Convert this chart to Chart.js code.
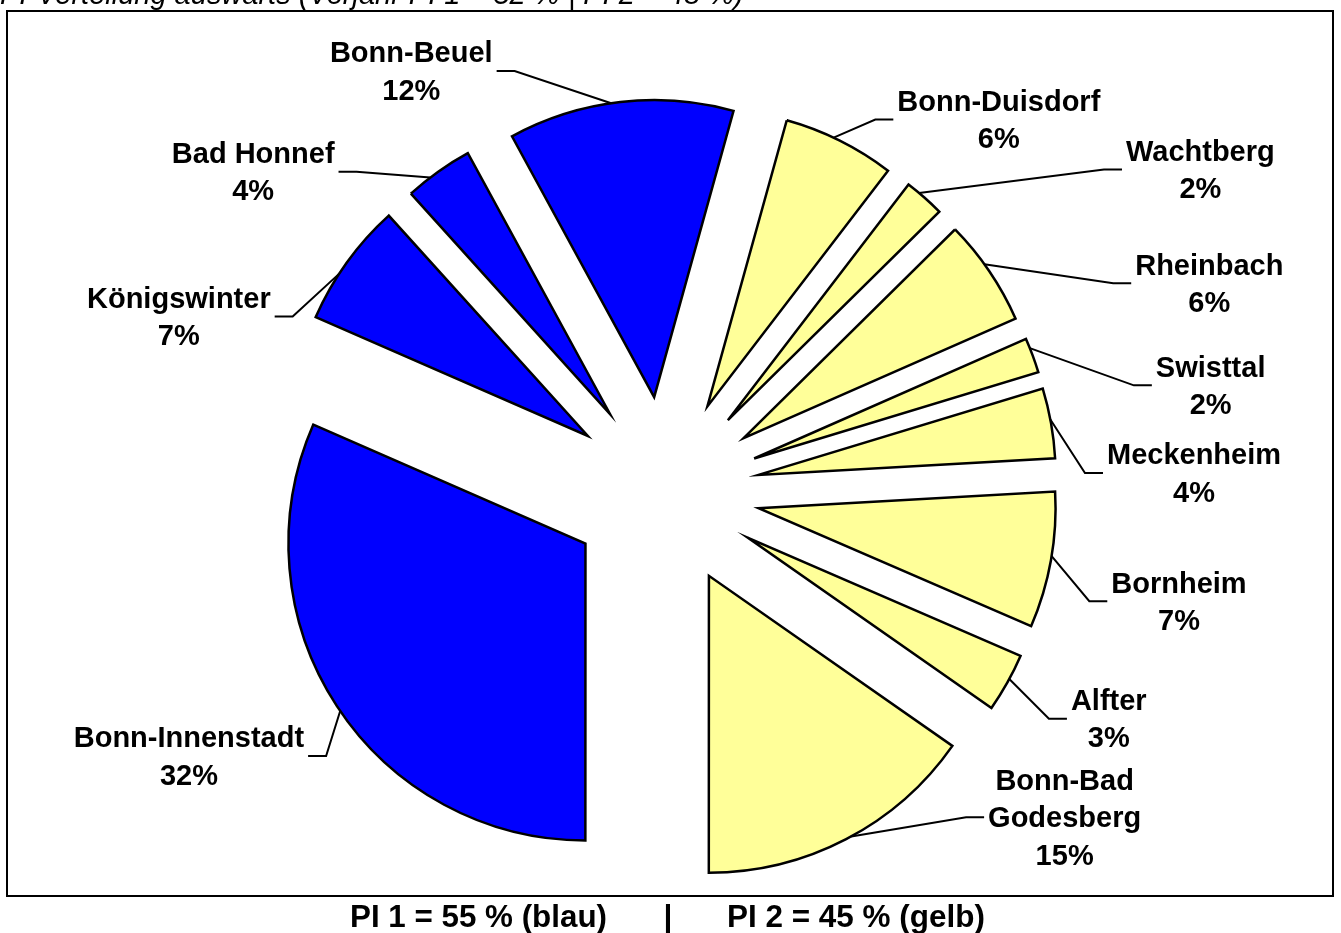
<!DOCTYPE html>
<html><head><meta charset="utf-8">
<script src="https://cdn.jsdelivr.net/npm/chart.js@4.4.1/dist/chart.umd.min.js"></script>
<style>html,body{margin:0;padding:0;background:#fff;overflow:hidden}canvas{display:block}</style>
</head><body>
<canvas id="c" width="1341" height="933"></canvas>
<script>
// ---- data (shares in %) ----
const categories = ['Bonn-Duisdorf','Wachtberg','Rheinbach','Swisttal','Meckenheim','Bornheim','Alfter',['Bonn-Bad','Godesberg'],'Bonn-Innenstadt','Königswinter','Bad Honnef','Bonn-Beuel'];
const shares = [6.1,2.2,5.8,1.9,3.8,7.4,3.2,15.3,31.55,6.75,3.75,12.25];
const groupOf = [2,2,2,2,2,2,2,2,1,1,1,1];   // 1 = PI 1 (blau), 2 = PI 2 (gelb)
const titleText = 'PI-Verteilung auswärts (Vorjahr PI 1 = 52 % | PI 2 = 48 %)';
const footerLeft = 'PI 1 = 55 % (blau)';
const footerSep = '|';
const footerRight = 'PI 2 = 45 % (gelb)';

// ---- style / layout ----
const BLUE = '#0000FF', YELLOW = '#FFFF99';
const EXPLODE = 0.32;           // explosion as fraction of radius
const FONT = 'bold 29px "Liberation Sans", Arial, sans-serif';
const LINE_H = 37.5;
// label block centre relative to slice's outer midpoint; t = leader attach position inside slice
const labelLayout = [
  {dx:159, dy:-21, t:0.44},
  {dx:276, dy:-28, t:0.33},
  {dx:220, dy:12, t:0.42},
  {dx:178, dy:30, t:0.28},
  {dx:143, dy:50, t:0.45},
  {dx:128, dy:41, t:0.47},
  {dx:101.5, dy:36, t:0.43},
  {dx:218.5, dy:-22, t:0.48},
  {dx:-148, dy:50, t:0.49},
  {dx:-168, dy:54, t:0.39},
  {dx:-185, dy:0, t:0.36},
  {dx:-209, dy:-31, t:0.46}
];

const explodePlugin = {
  id: 'explode',
  beforeDatasetDraw(chart, args) {
    const ctx = chart.ctx;
    args.meta.data.forEach(arc => {
      const p = arc.getProps(['startAngle','endAngle','outerRadius'], true);
      const mid = (p.startAngle + p.endAngle) / 2;
      const d = p.outerRadius * EXPLODE;
      ctx.save();
      ctx.translate(Math.cos(mid) * d, Math.sin(mid) * d);
      arc.draw(ctx, chart.chartArea);
      ctx.restore();
    });
    return false;
  }
};

const labelPlugin = {
  id: 'labels',
  afterDraw(chart) {
    const ctx = chart.ctx;
    const meta = chart.getDatasetMeta(0);
    const total = shares.reduce((a, b) => a + b, 0);
    ctx.save();
    ctx.font = FONT;
    ctx.fillStyle = '#000';
    ctx.strokeStyle = '#000';
    ctx.lineWidth = 2;
    ctx.lineJoin = 'miter';
    ctx.textAlign = 'center';
    ctx.textBaseline = 'alphabetic';
    meta.data.forEach((arc, i) => {
      const p = arc.getProps(['x','y','startAngle','endAngle','outerRadius'], true);
      const mid = (p.startAngle + p.endAngle) / 2;
      const d = p.outerRadius * EXPLODE;
      const cx = p.x + Math.cos(mid) * d, cy = p.y + Math.sin(mid) * d;
      const ox = cx + Math.cos(mid) * p.outerRadius, oy = cy + Math.sin(mid) * p.outerRadius;
      const L = labelLayout[i];
      const lx = ox + L.dx, ly = oy + L.dy;
      const name = categories[i];
      const lines = (Array.isArray(name) ? name.slice() : [name]);
      lines.push(Math.round(shares[i] / total * 100) + '%');
      const w = Math.max(...lines.map(s => ctx.measureText(s).width));
      lines.forEach((s, k) => {
        const yc = ly + (k - (lines.length - 1) / 2) * LINE_H;
        ctx.fillText(s, lx, yc + 10);
      });
      const a = p.startAngle + L.t * (p.endAngle - p.startAngle);
      const ax = cx + Math.cos(a) * p.outerRadius, ay = cy + Math.sin(a) * p.outerRadius;
      const sgn = L.dx < 0 ? 1 : -1;
      const sx = lx + sgn * (w / 2 + 4);
      const ex = sx + sgn * 18;
      ctx.beginPath();
      ctx.moveTo(sx, ly);
      ctx.lineTo(ex, ly);
      ctx.lineTo(ax, ay);
      ctx.stroke();
    });
    ctx.restore();
  }
};

function fitText(ctx, text, cx, y, width) {
  const m = ctx.measureText(text).width;
  ctx.save();
  ctx.translate(cx, y);
  ctx.scale(width / m, 1);
  ctx.fillText(text, 0, 0);
  ctx.restore();
}

const framePlugin = {
  id: 'frame',
  afterDraw(chart) {
    const ctx = chart.ctx;
    ctx.save();
    ctx.strokeStyle = '#000';
    ctx.lineWidth = 2;
    ctx.strokeRect(7, 11, 1326, 885);
    ctx.fillStyle = '#000';
    ctx.font = 'italic 29px "Liberation Sans", Arial, sans-serif';
    ctx.textAlign = 'left';
    ctx.textBaseline = 'alphabetic';
    ctx.fillText(titleText, 0, 4);
    ctx.font = 'bold 32px "Liberation Sans", Arial, sans-serif';
    ctx.textAlign = 'center';
    fitText(ctx, footerLeft, 478.5, 927, 257);
    ctx.fillText(footerSep, 668, 927);
    fitText(ctx, footerRight, 856, 927, 258);
    ctx.restore();
  }
};

new Chart(document.getElementById('c'), {
  type: 'pie',
  data: {
    labels: categories,
    datasets: [{
      data: shares,
      backgroundColor: groupOf.map(g => g === 1 ? BLUE : YELLOW),
      borderColor: '#000',
      borderWidth: 2.5,
      borderJoinStyle: 'miter',
      offset: 0,
      hoverOffset: 0
    }]
  },
  options: {
    responsive: false,
    animation: false,
    events: [],
    rotation: 15.5,
    radius: 297,
    layout: { padding: { top: 50, left: 0, right: 11, bottom: 0 } },
    plugins: { legend: { display: false }, tooltip: { enabled: false } }
  },
  plugins: [explodePlugin, labelPlugin, framePlugin]
});
</script>
</body></html>
